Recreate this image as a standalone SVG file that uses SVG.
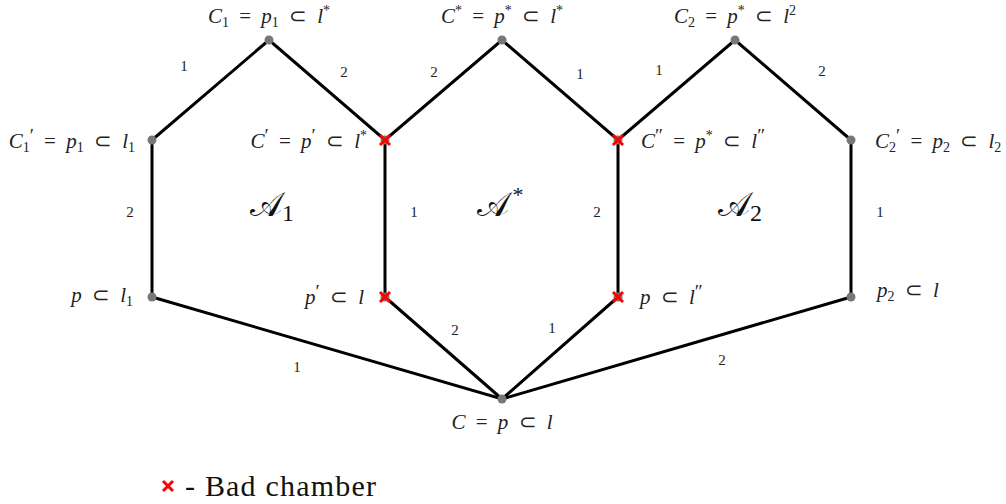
<svg xmlns="http://www.w3.org/2000/svg" width="1006" height="504" viewBox="0 0 1006 504">
<style>
.e{stroke:#000;stroke-width:3;fill:none;stroke-linecap:round}
.m{font-family:"Liberation Serif",serif;font-size:21px;fill:#222;word-spacing:5px}
.i{font-style:italic}
.s{font-size:14px}
.p{font-size:19px}
.el{font-family:"Liberation Serif",serif;font-size:15px;fill:#222;text-anchor:middle}
.big{font-family:"Liberation Serif",serif;font-size:34px;fill:#111;text-anchor:middle}
.dot{fill:#777}
.x{stroke:#f00;stroke-width:3;stroke-linecap:butt}
</style>
<g id="connectors">
<polyline class="e" points="152,297 152,140 269,40 385,140 502,40 618,140 735,40 851,140 851,297"/>
<line class="e" x1="385" y1="140" x2="385" y2="297"/>
<line class="e" x1="618" y1="140" x2="618" y2="297"/>
<polyline class="e" points="152,297 502,399 851,297"/>
<line class="e" x1="385" y1="297" x2="502" y2="399" stroke-width="2.5"/>
<line class="e" x1="618" y1="297" x2="502" y2="399" stroke-width="2.5"/>
<text class="el" x="184" y="71">1</text>
<text class="el" x="344" y="77">2</text>
<text class="el" x="434" y="77">2</text>
<text class="el" x="580" y="79">1</text>
<text class="el" x="659" y="75">1</text>
<text class="el" x="822" y="76">2</text>
<text class="el" x="130" y="217">2</text>
<text class="el" x="414" y="217">1</text>
<text class="el" x="597" y="217">2</text>
<text class="el" x="880" y="217">1</text>
<text class="el" x="297" y="372">1</text>
<text class="el" x="455" y="335">2</text>
<text class="el" x="552" y="333">1</text>
<text class="el" x="722" y="365">2</text>
</g>
<g id="n-C1">
<circle class="dot" cx="269" cy="40" r="4.5"/>
<text class="m" x="269" y="23" text-anchor="middle"><tspan class="i">C</tspan><tspan class="s" dy="4">1</tspan><tspan dy="-4"> = </tspan><tspan class="i">p</tspan><tspan class="s" dy="4">1</tspan><tspan dy="-4"> ⊂ </tspan><tspan class="i">l</tspan><tspan class="s" dy="-8">*</tspan></text>
</g>
<g id="n-Cstar">
<circle class="dot" cx="502" cy="40" r="4.5"/>
<text class="m" x="502" y="23" text-anchor="middle"><tspan class="i">C</tspan><tspan class="s" dy="-8">*</tspan><tspan dy="8"> = </tspan><tspan class="i">p</tspan><tspan class="s" dy="-8">*</tspan><tspan dy="8"> ⊂ </tspan><tspan class="i">l</tspan><tspan class="s" dy="-8">*</tspan></text>
</g>
<g id="n-C2">
<circle class="dot" cx="735" cy="40" r="4.5"/>
<text class="m" x="735" y="23" text-anchor="middle"><tspan class="i">C</tspan><tspan class="s" dy="4">2</tspan><tspan dy="-4"> = </tspan><tspan class="i">p</tspan><tspan class="s" dy="-8">*</tspan><tspan dy="8"> ⊂ </tspan><tspan class="i">l</tspan><tspan class="s" dy="-8">2</tspan></text>
</g>
<g id="n-C1p">
<circle class="dot" cx="152" cy="140" r="4.5"/>
<text class="m" x="135" y="148" text-anchor="end"><tspan class="i">C</tspan><tspan class="s" dy="4">1</tspan><tspan class="p" dy="-10">′</tspan><tspan dy="6"> = </tspan><tspan class="i">p</tspan><tspan class="s" dy="4">1</tspan><tspan dy="-4"> ⊂ </tspan><tspan class="i">l</tspan><tspan class="s" dy="4">1</tspan></text>
</g>
<g id="n-Cp">
<circle class="dot" cx="385" cy="140" r="4.5"/>
<path class="x" d="M380,135 L390,145 M390,135 L380,145"/>
<text class="m" x="367" y="148" text-anchor="end"><tspan class="i">C</tspan><tspan class="p" dy="-6">′</tspan><tspan dy="6"> = </tspan><tspan class="i">p</tspan><tspan class="p" dy="-6">′</tspan><tspan dy="6"> ⊂ </tspan><tspan class="i">l</tspan><tspan class="s" dy="-8">*</tspan></text>
</g>
<g id="n-Cpp">
<circle class="dot" cx="618" cy="140" r="4.5"/>
<path class="x" d="M613,135 L623,145 M623,135 L613,145"/>
<text class="m" x="641" y="148"><tspan class="i">C</tspan><tspan class="p" dy="-6">″</tspan><tspan dy="6"> = </tspan><tspan class="i">p</tspan><tspan class="s" dy="-8">*</tspan><tspan dy="8"> ⊂ </tspan><tspan class="i">l</tspan><tspan class="p" dy="-6">″</tspan></text>
</g>
<g id="n-C2p">
<circle class="dot" cx="851" cy="140" r="4.5"/>
<text class="m" x="875" y="148"><tspan class="i">C</tspan><tspan class="s" dy="4">2</tspan><tspan class="p" dy="-10">′</tspan><tspan dy="6"> = </tspan><tspan class="i">p</tspan><tspan class="s" dy="4">2</tspan><tspan dy="-4"> ⊂ </tspan><tspan class="i">l</tspan><tspan class="s" dy="4">2</tspan></text>
</g>
<g id="n-pl1">
<circle class="dot" cx="152" cy="297" r="4.5"/>
<text class="m" x="133" y="302" text-anchor="end"><tspan class="i">p</tspan> ⊂ <tspan class="i">l</tspan><tspan class="s" dy="4">1</tspan></text>
</g>
<g id="n-ppl">
<circle class="dot" cx="385" cy="297" r="4.5"/>
<path class="x" d="M380,292 L390,302 M390,292 L380,302"/>
<text class="m" x="364" y="304" text-anchor="end"><tspan class="i">p</tspan><tspan class="p" dy="-6">′</tspan><tspan dy="6"> ⊂ </tspan><tspan class="i">l</tspan></text>
</g>
<g id="n-plpp">
<circle class="dot" cx="618" cy="297" r="4.5"/>
<path class="x" d="M613,292 L623,302 M623,292 L613,302"/>
<text class="m" x="640" y="304"><tspan class="i">p</tspan> ⊂ <tspan class="i">l</tspan><tspan class="p" dy="-6">″</tspan></text>
</g>
<g id="n-p2l">
<circle class="dot" cx="851" cy="297" r="4.5"/>
<text class="m" x="877" y="297"><tspan class="i">p</tspan><tspan class="s" dy="4">2</tspan><tspan dy="-4"> ⊂ </tspan><tspan class="i">l</tspan></text>
</g>
<g id="n-C">
<circle class="dot" cx="502" cy="399" r="4.5"/>
<text class="m" x="502" y="429" text-anchor="middle" fill="#333"><tspan class="i">C</tspan> = <tspan class="i">p</tspan> ⊂ <tspan class="i">l</tspan></text>
</g>
<g id="regions">
<text class="big" x="272" y="216"><tspan>𝒜</tspan><tspan font-size="24" dy="5">1</tspan></text>
<text class="big" x="500" y="216"><tspan>𝒜</tspan><tspan font-size="22" dx="4" dy="-14">*</tspan></text>
<text class="big" x="740" y="216"><tspan>𝒜</tspan><tspan font-size="24" dy="5">2</tspan></text>
</g>
<g id="legend">
<path class="x" d="M163,481 L173,491 M173,481 L163,491"/>
<text x="185" y="496" font-family="Liberation Serif,serif" font-size="30" letter-spacing="1.2" fill="#111">- Bad chamber</text>
</g>
</svg>
